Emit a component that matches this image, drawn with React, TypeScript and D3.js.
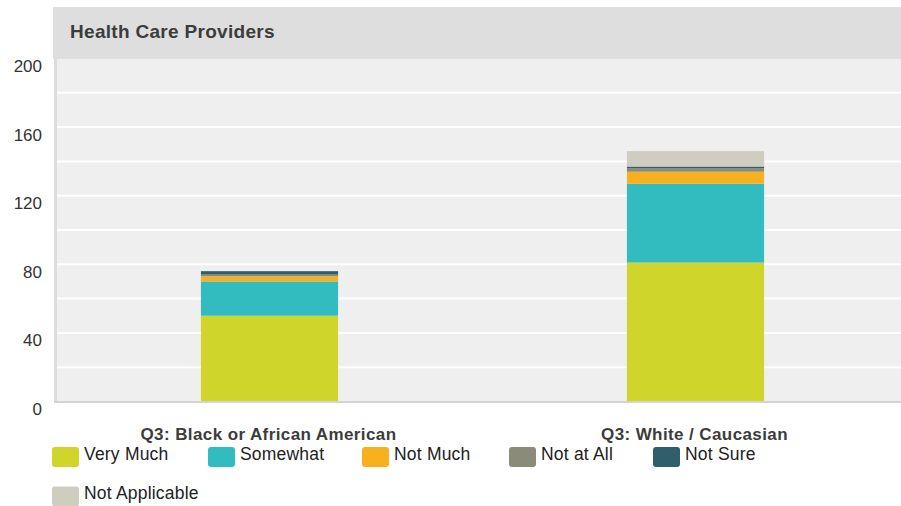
import React from "react";
import * as d3 from "d3";

const categories = ["Q3: Black or African American", "Q3: White / Caucasian"];
const seriesNames = ["Very Much", "Somewhat", "Not Much", "Not at All", "Not Sure", "Not Applicable"];
const veryMuch = [50, 81];
const somewhat = [20, 46];
const notMuch = [3, 7];
const notAtAll = [1, 2];
const notSure = [2, 1];
const notApplicable = [0, 9];
const yTicks = [0, 40, 80, 120, 160, 200];
const gridValues = [20, 40, 60, 80, 100, 120, 140, 160, 180];
const colors = ["#cfd52a", "#33bcbf", "#f8b01f", "#8a8b79", "#2e5f6b", "#cfcdbf"];
const title = "Health Care Providers";

const W = 901;
const H = 506;

export default function App() {
  const seriesValues = [veryMuch, somewhat, notMuch, notAtAll, notSure, notApplicable];
  const rows = categories.map((c, i) => {
    const r: any = { cat: c };
    seriesNames.forEach((s, j) => (r[s] = seriesValues[j][i]));
    return r;
  });
  const stacked = d3.stack().keys(seriesNames)(rows);

  const plotLeft = 56.5;
  const plotRight = 908.5;
  const plotTop = 58.5;
  const plotBottom = 401.5;

  const x = d3.scaleBand().domain(categories).range([plotLeft, plotRight]).padding(0);
  const y = d3.scaleLinear().domain([0, 200]).range([plotBottom, plotTop]);
  const barW = x.bandwidth() * 0.322;

  const legendX = [52, 208, 362, 509, 653, 52];
  const legendRow = [0, 0, 0, 0, 0, 1];

  return (
    <svg width={W} height={H} style={{ position: "absolute", left: 0, top: 0, fontFamily: "'Liberation Sans', Arial, sans-serif" }}>
      <rect x={0} y={0} width={W} height={H} fill="#ffffff" />
      {/* title bar */}
      <rect x={53} y={7} width={W - 53} height={52} fill="#dedede" />
      <text x={70} y={37.5} fontSize={19} fontWeight="bold" fill="#3c3c3c" letterSpacing={0.3}>
        {title}
      </text>
      {/* plot bg */}
      <rect x={54} y={59} width={W - 54} height={plotBottom - 59} fill="#efefef" />
      <rect x={54} y={59} width={3} height={plotBottom - 59 + 1} fill="#dcdcdc" />
      {gridValues.map((v) => (
        <line key={v} x1={57} x2={W} y1={y(v)} y2={y(v)} stroke="#ffffff" strokeWidth={2} />
      ))}
      {stacked.map((s, j) =>
        s.map((d, i) => {
          const h = y(d[0]) - y(d[1]);
          if (h <= 0) return null;
          return (
            <rect
              key={j + "-" + i}
              x={(x(categories[i]) as number) + x.bandwidth() / 2 - barW / 2}
              y={y(d[1])}
              width={barW}
              height={h}
              fill={colors[j]}
            />
          );
        })
      )}
      <rect x={54} y={plotBottom - 0.5} width={W - 54} height={2} fill="#d4d4d4" />
      {yTicks.map((t) => (
        <text key={t} x={42} y={y(t) + 9} fontSize={17} fill="#333333" textAnchor="end" dominantBaseline="middle">
          {t}
        </text>
      ))}
      {categories.map((c) => (
        <text
          key={c}
          x={(x(c) as number) + x.bandwidth() / 2 - 1}
          y={439.5}
          fontSize={17}
          fontWeight="bold"
          fill="#3c3c3c"
          textAnchor="middle"
          letterSpacing={0.4}
        >
          {c}
        </text>
      ))}
      {seriesNames.map((s, j) => {
        const lx = legendX[j];
        const ly = 447 + legendRow[j] * 39.5;
        return (
          <g key={s}>
            <rect x={lx} y={ly} width={27} height={20} rx={3} fill={colors[j]} />
            <text x={lx + 32} y={ly + 12.5} fontSize={17.5} fill="#222222" letterSpacing={0.2}>
              {s}
            </text>
          </g>
        );
      })}
    </svg>
  );
}
